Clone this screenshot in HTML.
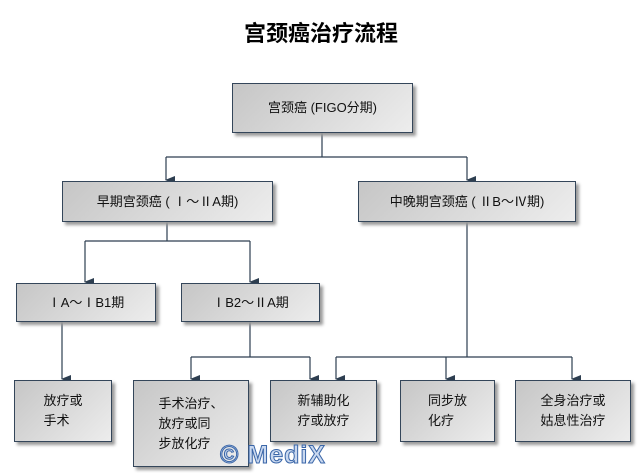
<!DOCTYPE html>
<html><head><meta charset="utf-8"><style>
body{margin:0;width:642px;height:473px;background:#fff;position:relative;overflow:hidden;font-family:"Liberation Sans","Noto Sans CJK SC",sans-serif;}
.b{position:absolute;box-sizing:border-box;border:1px solid #34465a;background:linear-gradient(135deg,#c6c6c6,#ededed);box-shadow:3px 3px 3px #999;display:flex;align-items:center;justify-content:center;text-align:center;font-size:13px;color:#111;line-height:20px;}
.l{text-align:left}
h1{position:absolute;left:0;width:642px;top:16px;margin:0;text-align:center;font-size:22px;font-weight:bold;font-family:"Noto Sans CJK SC",sans-serif;}
svg{position:absolute;left:0;top:0}
.wm{position:absolute;left:220px;top:441px;font-size:25px;font-weight:bold;color:#c9d8ef;-webkit-text-stroke:1px #3a66a8;letter-spacing:1px}
</style></head><body>
<h1>宫颈癌治疗流程</h1>
<svg width="642" height="473"><defs><marker id="a" markerWidth="8" markerHeight="10" refX="4" refY="9" orient="auto" markerUnits="userSpaceOnUse"><path d="M0,0 L8,0 L4,10 Z" fill="#2d3e50"/></marker></defs>
<g stroke="#2d3e50" stroke-width="1.2" fill="none">
<path d="M322 132V157M166 157H467"/><path d="M166 157V180" marker-end="url(#a)"/><path d="M467 157V180" marker-end="url(#a)"/>
<path d="M167 221V241M85 241H250"/><path d="M85 241V282" marker-end="url(#a)"/><path d="M250 241V282" marker-end="url(#a)"/>
<path d="M467 221V357M336 357H572"/><path d="M336 357V379" marker-end="url(#a)"/><path d="M446 357V379" marker-end="url(#a)"/><path d="M572 357V379" marker-end="url(#a)"/>
<path d="M62 321V379" marker-end="url(#a)"/>
<path d="M250 321V357M191 357H310"/><path d="M191 357V379" marker-end="url(#a)"/><path d="M310 357V379" marker-end="url(#a)"/>
</g></svg>
<div class="b" style="left:232px;top:83px;width:181px;height:50px">宫颈癌 (FIGO分期)</div>
<div class="b" style="left:62px;top:181px;width:211px;height:41px">早期宫颈癌 ( Ⅰ～ⅡA期)</div>
<div class="b" style="left:358px;top:181px;width:218px;height:41px">中晚期宫颈癌 ( ⅡB～Ⅳ期)</div>
<div class="b" style="left:16px;top:283px;width:140px;height:39px">ⅠA～ⅠB1期</div>
<div class="b" style="left:181px;top:283px;width:139px;height:39px">ⅠB2～ⅡA期</div>
<div class="b" style="left:14px;top:380px;width:98px;height:62px"><div class="l">放疗或<br>手术</div></div>
<div class="b" style="left:133px;top:380px;width:116px;height:87px"><div class="l">手术治疗、<br>放疗或同<br>步放化疗</div></div>
<div class="b" style="left:270px;top:380px;width:107px;height:62px">新辅助化<br>疗或放疗</div>
<div class="b" style="left:400px;top:380px;width:95px;height:62px"><div class="l">同步放<br>化疗</div></div>
<div class="b" style="left:515px;top:380px;width:116px;height:62px">全身治疗或<br>姑息性治疗</div>
<div class="wm">© MediX</div>
</body></html>
